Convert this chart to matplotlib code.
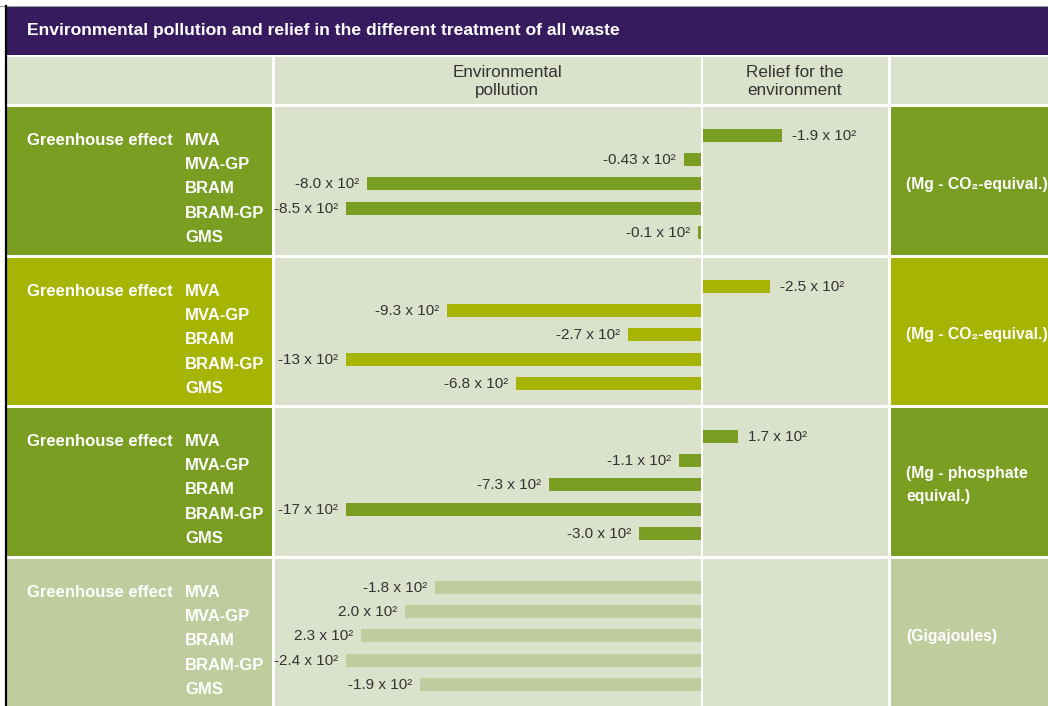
import matplotlib
matplotlib.use("Agg")
import matplotlib.pyplot as plt
from matplotlib.patches import Rectangle
from matplotlib import font_manager
import matplotlib.transforms as mtransforms

# ---------------- data ----------------
title = "Environmental pollution and relief in the different treatment of all waste"
col_headers = ["Environmental\npollution", "Relief for the\nenvironment"]
indicator = "Greenhouse effect"
processes = ["MVA", "MVA-GP", "BRAM", "BRAM-GP", "GMS"]
units = ["(Mg - CO\u2082-equival.)", "(Mg - CO\u2082-equival.)",
         "(Mg - phosphate\nequival.)", "(Gigajoules)"]

# values in units of 10^2 ; negative = environmental pollution, positive = relief
sec1_values = [1.9, -0.43, -8.0, -8.5, -0.1]
sec1_labels = ["-1.9 x 10\u00b2", "-0.43 x 10\u00b2", "-8.0 x 10\u00b2", "-8.5 x 10\u00b2", "-0.1 x 10\u00b2"]
sec2_values = [2.5, -9.3, -2.7, -13, -6.8]
sec2_labels = ["-2.5 x 10\u00b2", "-9.3 x 10\u00b2", "-2.7 x 10\u00b2", "-13 x 10\u00b2", "-6.8 x 10\u00b2"]
sec3_values = [1.7, -1.1, -7.3, -17, -3.0]
sec3_labels = ["1.7 x 10\u00b2", "-1.1 x 10\u00b2", "-7.3 x 10\u00b2", "-17 x 10\u00b2", "-3.0 x 10\u00b2"]
sec4_values = [-1.8, -2.0, -2.3, -2.4, -1.9]
sec4_labels = ["-1.8 x 10\u00b2", "2.0 x 10\u00b2", "2.3 x 10\u00b2", "-2.4 x 10\u00b2", "-1.9 x 10\u00b2"]

# ---------------- style ----------------
W, H = 1048, 706
PURPLE = "#361b5f"
LIGHT = "#dbe2cc"
GREEN = "#7a9e22"
YGREEN = "#a6b504"
PALE = "#bfcc9d"
TXT = "#333333"

names = {f.name for f in font_manager.fontManager.ttflist}
NARROW = ["Liberation Sans Narrow", "DejaVu Sans"] if "Liberation Sans Narrow" in names else ["Liberation Sans", "DejaVu Sans"]
BOLD = ["Liberation Sans", "DejaVu Sans"]

fig = plt.figure(figsize=(W / 100, H / 100), dpi=100, facecolor="white")
bg = fig.add_axes([0, 0, 1, 1])
bg.set_xlim(0, W)
bg.set_ylim(H, 0)
bg.axis("off")
bg.set_zorder(0)

def rect(ax, x0, y0, x1, y1, color):
    ax.add_patch(Rectangle((x0, y0), x1 - x0, y1 - y0, facecolor=color, edgecolor="none"))

# frame
bg.plot([0, W], [5.5, 5.5], color="#9a9a9a", lw=0.8)
bg.plot([5.5, 5.5], [6, H], color="black", lw=1.6)

# title bar
rect(bg, 7, 6, W, 55, PURPLE)
bg.text(27, 30.5, title, color="white", fontsize=12.6, fontweight="bold", family=NARROW, va="center", ha="left")

cols = [(7, 272), (275, 701), (703, 888), (891, W)]
# header row
for x0, x1 in cols:
    rect(bg, x0, 57, x1, 104, LIGHT)
bg.text(507, 81.5, col_headers[0], color=TXT, fontsize=12.3, family=NARROW, ha="center", va="center", linespacing=1.25)
bg.text(795, 81.5, col_headers[1], color=TXT, fontsize=12.3, family=NARROW, ha="center", va="center", linespacing=1.25)

sections = [
    (107, 255, GREEN, sec1_values, sec1_labels),
    (258, 405, YGREEN, sec2_values, sec2_labels),
    (408, 556, GREEN, sec3_values, sec3_labels),
    (559, H, PALE, sec4_values, sec4_labels),
]

ZERO = 702.0
FULL = 356.0
for k, (y0, y1, col, vals, labs) in enumerate(sections):
    rect(bg, cols[0][0], y0, cols[0][1], y1, col)
    rect(bg, cols[1][0], y0, cols[1][1], y1, LIGHT)
    rect(bg, cols[2][0], y0, cols[2][1], y1, LIGHT)
    rect(bg, cols[3][0], y0, cols[3][1], y1, col)

    rows = [y0 + 28.5 + 24.2 * i for i in range(5)]
    bg.text(27, rows[0] + 5, indicator, color="white", fontsize=12, fontweight="bold", family=BOLD, va="center")
    for i, p in enumerate(processes):
        bg.text(185, rows[i] + 5, p, color="white", fontsize=12, fontweight="bold", family=BOLD, va="center")
    bg.text(906, y0 + 77, units[k], color="white", fontsize=11.3, fontweight="bold", family=BOLD,
            va="center", ha="left", linespacing=1.6)

    # bar axes for this section
    h = y1 - y0
    ax = fig.add_axes([275 / W, 1 - y1 / H, (888 - 275) / W, h / H])
    ax.set_zorder(1)
    ax.patch.set_alpha(0)
    ax.axis("off")
    s = FULL / max(-v for v in vals if v < 0)
    ax.set_xlim(-(ZERO - 275) / s, (888 - ZERO) / s)
    ax.set_ylim(h, 0)
    ys = [r - y0 for r in rows]
    ax.barh(ys, vals, height=13, color=col)
    for v, y, lab in zip(vals, ys, labs):
        if v < 0:
            tr = mtransforms.offset_copy(ax.transData, fig=fig, x=-8, y=0, units="dots")
            ax.text(v, y + 0.5, lab, transform=tr, ha="right", va="center", color=TXT,
                    fontsize=11, family=NARROW, clip_on=False)
        else:
            tr = mtransforms.offset_copy(ax.transData, fig=fig, x=10, y=0, units="dots")
            ax.text(v, y + 0.5, lab, transform=tr, ha="left", va="center", color=TXT,
                    fontsize=11, family=NARROW, clip_on=False)

# overlay: white separator between pollution and relief columns
ov = fig.add_axes([0, 0, 1, 1])
ov.set_zorder(2)
ov.patch.set_alpha(0)
ov.set_xlim(0, W)
ov.set_ylim(H, 0)
ov.axis("off")
rect(ov, 701, 57, 703, H, "white")

fig.savefig("out.png", dpi=100, facecolor="white")
